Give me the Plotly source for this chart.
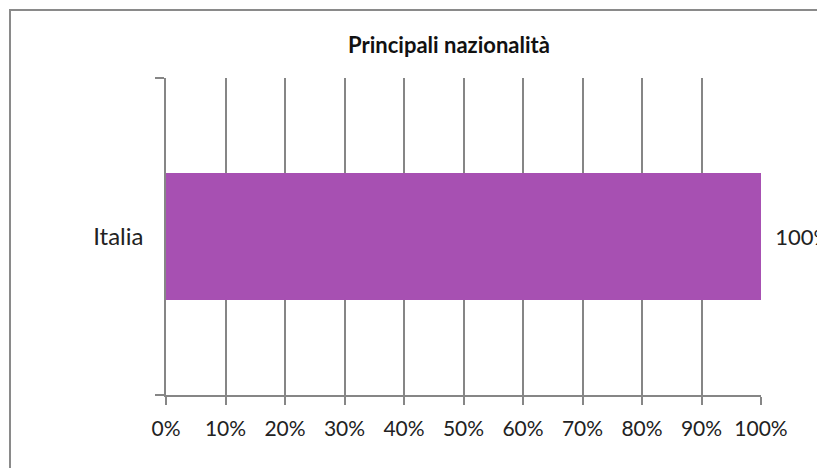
import plotly.graph_objects as go

categories = ["Italia"]
values = [1.0]
value_labels = ["100%"]
tick_vals = [0, 0.1, 0.2, 0.3, 0.4, 0.5, 0.6, 0.7, 0.8, 0.9, 1.0]
tick_text = ["0%", "10%", "20%", "30%", "40%", "50%", "60%", "70%", "80%", "90%", "100%"]
title_text = "Principali nazionalità"

FONT = "Lato, 'Open Sans', sans-serif"
GRID = "#868686"
W, H = 817, 460
L, T = 158, 70
PW, PH = 595, 317

fig = go.Figure()
fig.add_trace(go.Bar(
    x=values, y=categories, orientation="h",
    marker=dict(color="#A750B2", line=dict(width=0)),
    text=value_labels, texttemplate="  %{text}", textposition="outside", cliponaxis=False,
    textfont=dict(family=FONT, size=22, color="#222222"),
))

fig.update_layout(
    width=W, height=H,
    margin=dict(l=L, r=W - L - PW, t=T, b=H - T - PH, autoexpand=False),
    paper_bgcolor="white", plot_bgcolor="white",
    showlegend=False,
    bargap=0.6,
    font=dict(family=FONT, color="#222222"),
    title=dict(text="<b>" + title_text + "</b>", x=(441 - L) / PW, xref="paper",
               xanchor="center", y=1 - 37 / H, yanchor="middle",
               font=dict(family=FONT, size=22, color="#111111")),
    xaxis=dict(range=[0, 1], tickvals=tick_vals, ticktext=tick_text,
               showgrid=True, gridcolor=GRID, gridwidth=1.5,
               showline=True, linecolor=GRID, linewidth=1.5,
               ticks="outside", ticklen=8, tickcolor=GRID, tickwidth=1.5,
               ticklabelstandoff=6,
               tickfont=dict(family=FONT, size=21, color="#222222"),
               zeroline=False, fixedrange=True),
    yaxis=dict(showline=True, linecolor=GRID, linewidth=1.5,
               ticks="outside", tickson="boundaries", ticklen=9, tickcolor=GRID, tickwidth=1.5,
               showgrid=False, ticklabelstandoff=16,
               tickfont=dict(family=FONT, size=24, color="#222222"),
               fixedrange=True),
)

# chart frame (top-left corner visible, extends past the page)
fig.add_shape(type="rect", xref="paper", yref="paper",
              x0=(2 - L) / PW, x1=1.5, y0=-0.6, y1=1 + (T - 2) / PH,
              line=dict(color="#8a8a8a", width=2), fillcolor="rgba(0,0,0,0)", layer="below")

fig.write_html("out.html")
